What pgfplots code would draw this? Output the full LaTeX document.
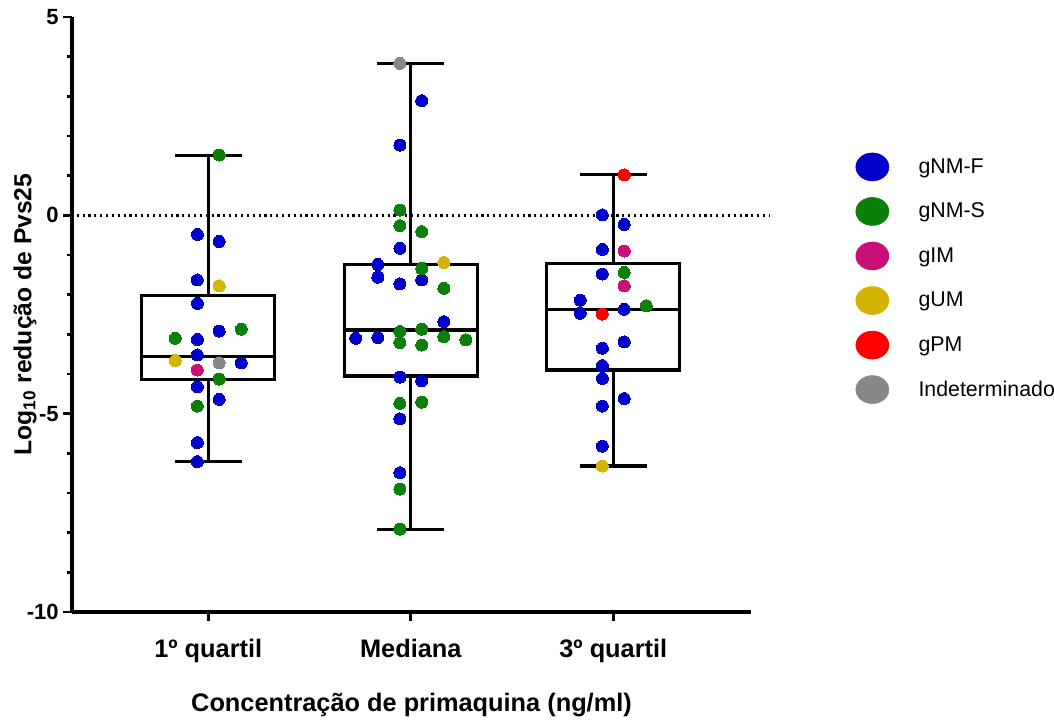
\documentclass[border=0pt]{standalone}
\usepackage{fontspec}
\setmainfont{Liberation Sans}
\usepackage{pgfplots}
\pgfplotsset{compat=1.18}
\usepgfplotslibrary{statistics}
\definecolor{cBlue}{RGB}{0,0,200}
\definecolor{cGreen}{RGB}{10,128,10}
\definecolor{cPink}{RGB}{200,16,120}
\definecolor{cGold}{RGB}{212,180,0}
\definecolor{cRed}{RGB}{255,0,0}
\definecolor{cGray}{RGB}{136,136,136}
\begin{document}
\begin{tikzpicture}
\useasboundingbox (-54pt,-81.75pt) rectangle (736.5pt,459pt);
\begin{axis}[
  scale only axis, width=509.25pt, height=446.25pt,
  xmin=-0.673, xmax=2.68, ymin=-10, ymax=5,
  axis lines=left,
  axis line style={-, line width=2.6pt},
  every outer x axis line/.append style={line width=2.6pt},
  every outer y axis line/.append style={line width=2.6pt},
  clip=false,
  tick align=outside,
  major tick length=6.5pt, minor tick length=3.5pt,
  every tick/.style={black, line width=2.2pt},
  xtick={0,1,2}, xticklabels={1º quartil, Mediana, 3º quartil},
  ytick={-10,-5,0,5}, yticklabels={-10,-5,0,5},
  minor ytick={-9,-8,-7,-6,-4,-3,-2,-1,1,2,3,4},
  xticklabel style={font=\fontsize{19}{22}\selectfont\bfseries, yshift=-10.5pt},
  yticklabel style={font=\fontsize{16.5}{19}\selectfont\bfseries},
  xlabel={Concentração de primaquina (ng/ml)},
  ylabel={Log\textsubscript{10} redução de Pvs25},
  xlabel style={font=\fontsize{19}{22}\selectfont\bfseries, at={(axis description cs:0.5,-0.1563)}, anchor=center},
  ylabel style={font=\fontsize{18.5}{22}\selectfont\bfseries, at={(axis description cs:-0.0692,0.5)}, anchor=center},
  legend cell align=left,
  legend style={at={(rel axis cs:1.154,0.772)}, anchor=north west, draw=none, fill=none,
    inner sep=0pt, outer sep=0pt, row sep=12pt,
    font=\fontsize{16}{19}\selectfont,
    /tikz/every odd column/.append style={column sep=20pt}},
  legend image code/.code={\fill (0.435cm,0cm) ellipse (12.4pt and 10.5pt);},
  boxplot/draw direction=y,
]
% zero reference line
\addplot[forget plot, black, line width=1.9pt, dash pattern=on 1.6pt off 2.8pt] coordinates {(-0.65,0) (2.77,0)};
% boxes
\addplot[forget plot, black, line width=2.3pt, solid, boxplot prepared={draw position=0, lower whisker=-6.21, lower quartile=-4.15, median=-3.55, upper quartile=-2.02, upper whisker=1.52, box extend=0.657, whisker extend=0.33}] coordinates {};
\addplot[forget plot, black, line width=2.3pt, solid, boxplot prepared={draw position=1, lower whisker=-7.91, lower quartile=-4.05, median=-2.89, upper quartile=-1.23, upper whisker=3.83, box extend=0.657, whisker extend=0.33}] coordinates {};
\addplot[forget plot, black, line width=2.3pt, solid, boxplot prepared={draw position=2, lower whisker=-6.32, lower quartile=-3.90, median=-2.37, upper quartile=-1.21, upper whisker=1.02, box extend=0.657, whisker extend=0.33}] coordinates {};
% gNM-F
\addplot[only marks, mark=*, mark size=4.5pt, color=cBlue, mark options={solid, line width=0pt}] coordinates {
(-0.054,-0.48) (0.054,-0.66) (-0.054,-1.63) (-0.054,-2.22) (0.054,-2.92) (-0.054,-3.13) (-0.054,-3.52) (0.163,-3.72) (-0.054,-4.32) (0.054,-4.64) (-0.054,-5.73) (-0.054,-6.21)
(1.054,2.89) (0.946,1.77) (0.946,-0.83) (0.837,-1.24) (0.837,-1.56) (1.054,-1.63) (0.946,-1.73) (1.163,-2.68) (0.728,-3.10) (0.837,-3.08) (0.946,-4.08) (1.054,-4.17) (0.946,-5.13) (0.946,-6.49)
(1.946,0.01) (2.054,-0.23) (1.946,-0.86) (1.946,-1.48) (1.837,-2.14) (1.837,-2.47) (2.054,-2.37) (2.054,-3.19) (1.946,-3.35) (1.946,-3.79) (1.946,-4.11) (2.054,-4.62) (1.946,-4.81) (1.946,-5.82)
};
\addlegendentry{gNM-F}
% gNM-S
\addplot[only marks, mark=*, mark size=4.5pt, color=cGreen, mark options={solid, line width=0pt}] coordinates {
(0.054,1.52) (0.163,-2.87) (-0.163,-3.10) (0.054,-4.13) (-0.054,-4.81)
(0.946,0.13) (0.946,-0.26) (1.054,-0.41) (1.054,-1.34) (1.163,-1.84) (0.946,-2.93) (1.054,-2.87) (0.946,-3.21) (1.054,-3.27) (1.163,-3.06) (1.272,-3.14) (0.946,-4.74) (1.054,-4.71) (0.946,-6.90) (0.946,-7.91)
(2.054,-1.44) (2.163,-2.28)
};
\addlegendentry{gNM-S}
% gIM
\addplot[only marks, mark=*, mark size=4.5pt, color=cPink, mark options={solid, line width=0pt}] coordinates {
(-0.054,-3.90) (2.054,-0.90) (2.054,-1.78)
};
\addlegendentry{gIM}
% gUM
\addplot[only marks, mark=*, mark size=4.5pt, color=cGold, mark options={solid, line width=0pt}] coordinates {
(0.054,-1.78) (-0.163,-3.66) (1.163,-1.19) (1.946,-6.32)
};
\addlegendentry{gUM}
% gPM
\addplot[only marks, mark=*, mark size=4.5pt, color=cRed, mark options={solid, line width=0pt}] coordinates {
(2.054,1.02) (1.946,-2.49)
};
\addlegendentry{gPM}
% Indeterminado
\addplot[only marks, mark=*, mark size=4.5pt, color=cGray, mark options={solid, line width=0pt}] coordinates {
(0.054,-3.72) (0.946,3.83)
};
\addlegendentry{Indeterminado}
\end{axis}
\end{tikzpicture}
\end{document}
